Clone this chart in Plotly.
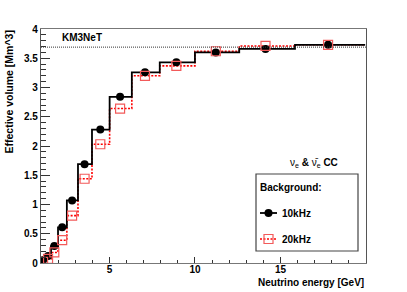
import plotly.graph_objects as go

# ---- data ----
bin_edges = [1.0, 1.259, 1.585, 1.995, 2.512, 3.162, 3.981, 5.012, 6.310, 7.943, 10.0, 12.589, 15.849, 19.953]
bin_centers = [1.122, 1.413, 1.778, 2.239, 2.818, 3.548, 4.467, 5.623, 7.079, 8.913, 11.22, 14.125, 17.783]
veff_10khz = [0.05, 0.12, 0.29, 0.61, 1.07, 1.69, 2.28, 2.84, 3.26, 3.43, 3.60, 3.66, 3.73]
veff_20khz = [0.02, 0.07, 0.18, 0.39, 0.81, 1.44, 2.03, 2.64, 3.20, 3.37, 3.62, 3.71, 3.73]
reference_level = 3.69
x_ticks = [5, 10, 15]
y_ticks = [0, 0.5, 1, 1.5, 2, 2.5, 3, 3.5, 4]

FONT = "Liberation Sans"
RED = "#ff0000"
RED_M = "#f25a5a"
RED_DASH = "2px,1.5px"

fig = go.Figure()

# step histograms
fig.add_trace(go.Scatter(
    x=[bin_edges[0]] + bin_edges, y=[0] + veff_20khz + [veff_20khz[-1]],
    mode="lines", line=dict(shape="hv", color=RED, width=1.6, dash=RED_DASH),
    hoverinfo="skip", showlegend=False))
fig.add_trace(go.Scatter(
    x=[bin_edges[0]] + bin_edges, y=[0] + veff_10khz + [veff_10khz[-1]],
    mode="lines", line=dict(shape="hv", color="black", width=1.8),
    hoverinfo="skip", showlegend=False))
# markers
fig.add_trace(go.Scatter(
    x=bin_centers, y=veff_10khz, mode="markers",
    marker=dict(symbol="circle", size=8, color="black"), showlegend=False))
fig.add_trace(go.Scatter(
    x=bin_centers, y=veff_20khz, mode="markers",
    marker=dict(symbol="square-open", size=9, color=RED_M, line=dict(width=1.2, color=RED_M)),
    showlegend=False))

# reference dotted line
fig.add_shape(type="line", xref="paper", x0=0, x1=1, yref="y",
              y0=reference_level, y1=reference_level,
              line=dict(color="#333333", width=1, dash="1px,1px"))

# plot-area geometry in pixels
L, R, T, B = 41, 366, 29, 263
W, H = R - L, B - T
def px(x):
    return (x - L) / W
def py(y):
    return (B - y) / H

# legend box
fig.add_shape(type="rect", xref="paper", yref="paper",
              x0=px(256), x1=px(358), y0=py(251), y1=py(174),
              line=dict(color="#444444", width=1.2), fillcolor="white", layer="above")
fig.add_annotation(xref="paper", yref="paper", x=px(258), y=py(187), text="<b>Background:</b>",
                   showarrow=False, xanchor="left", yanchor="middle",
                   font=dict(family=FONT, size=10, color="black"))
# 10kHz sample
fig.add_shape(type="line", xref="paper", yref="paper", x0=px(260), x1=px(277),
              y0=py(213), y1=py(213), line=dict(color="black", width=1.8), layer="above")
fig.add_shape(type="circle", xref="paper", yref="paper", xsizemode="pixel", ysizemode="pixel",
              xanchor=px(268.5), yanchor=py(213), x0=-4, x1=4, y0=-4, y1=4,
              fillcolor="black", line=dict(color="black", width=0), layer="above")
fig.add_annotation(xref="paper", yref="paper", x=px(280), y=py(213), text="<b>10kHz</b>",
                   showarrow=False, xanchor="left", yanchor="middle",
                   font=dict(family=FONT, size=10, color="black"))
# 20kHz sample
fig.add_shape(type="line", xref="paper", yref="paper", x0=px(260), x1=px(277),
              y0=py(239), y1=py(239), line=dict(color=RED, width=1.6, dash=RED_DASH), layer="above")
fig.add_shape(type="rect", xref="paper", yref="paper", xsizemode="pixel", ysizemode="pixel",
              xanchor=px(268.5), yanchor=py(239), x0=-4.5, x1=4.5, y0=-4.5, y1=4.5,
              fillcolor="rgba(0,0,0,0)", line=dict(color=RED_M, width=1.2), layer="above")
fig.add_annotation(xref="paper", yref="paper", x=px(280), y=py(239), text="<b>20kHz</b>",
                   showarrow=False, xanchor="left", yanchor="middle",
                   font=dict(family=FONT, size=10, color="black"))

# texts
fig.add_annotation(xref="paper", yref="paper", x=px(60), y=py(37), text="<b>KM3NeT</b>",
                   showarrow=False, xanchor="left", yanchor="middle",
                   font=dict(family=FONT, size=10, color="black"))
fig.add_annotation(xref="paper", yref="paper", x=px(288), y=py(163),
                   text="ν<sub>e</sub> <b>&</b> ν\u0304<sub>e</sub> <b>CC</b>",
                   showarrow=False, xanchor="left", yanchor="middle",
                   font=dict(family=FONT, size=10, color="black"))
fig.add_annotation(xref="paper", yref="paper", x=px(366), y=py(282),
                   text="<b>Neutrino energy [GeV]</b>",
                   showarrow=False, xanchor="right", yanchor="middle",
                   font=dict(family=FONT, size=10, color="black"))
fig.add_annotation(xref="paper", yref="paper", x=px(8), y=py(29),
                   text="<b>Effective volume [Mm^3]</b>", textangle=-90,
                   showarrow=False, xanchor="center", yanchor="top",
                   font=dict(family=FONT, size=10.5, color="black"))

fig.update_layout(
    width=407, height=292,
    margin=dict(l=L, r=407 - R, t=T, b=292 - B),
    paper_bgcolor="white", plot_bgcolor="white",
    showlegend=False,
)
fig.update_xaxes(
    range=[1, 20], tickvals=x_ticks, ticktext=[str(v) for v in x_ticks],
    ticks="inside", ticklen=6, tickcolor="#333", tickwidth=1,
    minor=dict(dtick=1, tick0=0, ticks="inside", ticklen=3, tickcolor="#333"),
    showline=True, linecolor="#777777", linewidth=1.2, mirror=True,
    showgrid=False, zeroline=False, ticklabelstandoff=-3,
    tickfont=dict(family=FONT, size=10, color="black", weight="bold"),
)
fig.update_yaxes(
    range=[0, 4], tickvals=y_ticks, ticktext=[f"{v:g}" for v in y_ticks],
    ticks="inside", ticklen=9, tickcolor="#333", tickwidth=1,
    minor=dict(dtick=0.1, tick0=0, ticks="inside", ticklen=5, tickcolor="#333"),
    showline=True, linecolor="#555555", linewidth=1.2, mirror=True,
    showgrid=False, zeroline=False,
    tickfont=dict(family=FONT, size=10, color="black", weight="bold"),
)

fig.write_html("out.html", config={"displayModeBar": False},
               post_script="document.body.style.margin='0';document.body.style.overflow='hidden';")
